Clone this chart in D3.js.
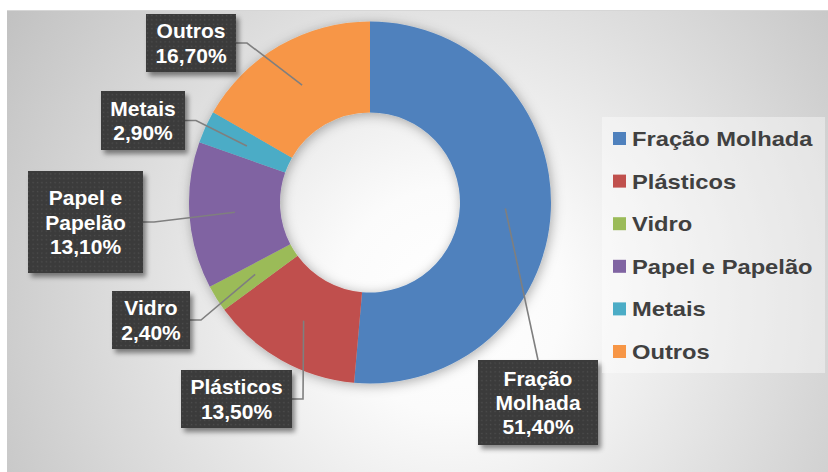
<!DOCTYPE html>
<html>
<head>
<meta charset="utf-8">
<script src="https://cdn.jsdelivr.net/npm/d3@7"></script>
<style>
  body { margin: 0; background: #ffffff; }
  svg { display: block; }
</style>
</head>
<body>
<svg id="chart" width="828" height="472"></svg>
<script>
// Composição dos resíduos (%)
const categories = ["Fração Molhada", "Plásticos", "Vidro", "Papel e Papelão", "Metais", "Outros"];
const shares = [51.4, 13.5, 2.4, 13.1, 2.9, 16.7];
const labelLines = [["Fração", "Molhada"], ["Plásticos"], ["Vidro"], ["Papel e", "Papelão"], ["Metais"], ["Outros"]];
const colors = ["#4f81bd", "#c0504d", "#9bbb59", "#8064a2", "#4bacc6", "#f79646"];

// Data-label callout boxes: centre and size
const calloutBoxes = [
  { cx: 538, cy: 402.5, w: 120, h: 85 },
  { cx: 236.5, cy: 399, w: 111, h: 58 },
  { cx: 151, cy: 320, w: 78, h: 58 },
  { cx: 85.5, cy: 222, w: 115, h: 102 },
  { cx: 143, cy: 120.5, w: 84, h: 59 },
  { cx: 191, cy: 43, w: 90, h: 58 }
];

const W = 828, H = 472;
const plot = { x: 7, y: 10, w: W - 7, h: H - 10 };
const centre = { x: 370, y: 202.5 };
const outerR = 181, innerR = 90;

const fmt = v => d3.format(".2f")(v).replace(".", ",") + "%";

const svg = d3.select("#chart");
const defs = svg.append("defs");

// background gradient
const bg = defs.append("radialGradient")
  .attr("id", "bgGrad")
  .attr("gradientUnits", "userSpaceOnUse")
  .attr("cx", 450).attr("cy", 300).attr("r", 560);
bg.append("stop").attr("offset", 0).attr("stop-color", "#ffffff");
bg.append("stop").attr("offset", 0.2).attr("stop-color", "#fbfbfb");
bg.append("stop").attr("offset", 1).attr("stop-color", "#bdbdbd");

// soft shadow around the ring
const ringShadow = defs.append("filter").attr("id", "ringShadow")
  .attr("x", "-20%").attr("y", "-20%").attr("width", "140%").attr("height", "140%");
ringShadow.append("feDropShadow")
  .attr("dx", 1.5).attr("dy", 2).attr("stdDeviation", 6)
  .attr("flood-color", "#000").attr("flood-opacity", 0.32);

// callout shadow
const boxShadow = defs.append("filter").attr("id", "boxShadow")
  .attr("x", "-20%").attr("y", "-20%").attr("width", "150%").attr("height", "160%");
boxShadow.append("feDropShadow")
  .attr("dx", 3).attr("dy", 4).attr("stdDeviation", 2.5)
  .attr("flood-color", "#000").attr("flood-opacity", 0.45);

// dotted texture of the callout boxes
const dots = defs.append("pattern").attr("id", "dots")
  .attr("patternUnits", "userSpaceOnUse").attr("width", 4.4).attr("height", 4.4);
dots.append("rect").attr("width", 4.4).attr("height", 4.4).attr("fill", "#3a3a3a");
dots.append("rect").attr("x", 1.6).attr("y", 1.6).attr("width", 1.4).attr("height", 1.4).attr("fill", "#4e4e4e");

// chart area
svg.append("rect")
  .attr("x", plot.x).attr("y", plot.y).attr("width", plot.w).attr("height", plot.h)
  .attr("fill", "url(#bgGrad)");
svg.append("line")
  .attr("x1", plot.x).attr("x2", W).attr("y1", plot.y + 0.5).attr("y2", plot.y + 0.5)
  .attr("stroke", "#d6d6d6").attr("stroke-width", 1);

// donut
const pie = d3.pie().sort(null).value(d => d)(shares);
const arc = d3.arc().innerRadius(innerR).outerRadius(outerR);
const anchorArc = d3.arc().innerRadius((innerR + outerR) / 2).outerRadius((innerR + outerR) / 2);

const ring = svg.append("g")
  .attr("transform", `translate(${centre.x},${centre.y})`)
  .attr("filter", "url(#ringShadow)");
ring.selectAll("path").data(pie).join("path")
  .attr("d", arc)
  .attr("fill", (d, i) => colors[i]);

// leader lines
const leaders = svg.append("g")
  .attr("fill", "none").attr("stroke", "#7f7f7f").attr("stroke-width", 1.6);
pie.forEach((d, i) => {
  const [ax0, ay0] = anchorArc.centroid(d);
  const ax = ax0 + centre.x, ay = ay0 + centre.y;
  const b = calloutBoxes[i];
  const x0 = b.cx - b.w / 2, x1 = b.cx + b.w / 2;
  let pts;
  if (ax >= x0 && ax <= x1) {
    const ey = ay < b.cy ? b.cy - b.h / 2 : b.cy + b.h / 2;
    pts = [[b.cx, ey], [ax, ay]];
  } else {
    const dir = ax > x1 ? 1 : -1;
    const ex = dir > 0 ? x1 : x0;
    const stub = Math.min(11, Math.abs(ax - ex));
    pts = [[ex, b.cy], [ex + dir * stub, b.cy], [ax, ay]];
  }
  leaders.append("path").attr("d", d3.line()(pts));
});

// callouts
const callouts = svg.append("g");
pie.forEach((d, i) => {
  const b = calloutBoxes[i];
  const g = callouts.append("g");
  g.append("rect")
    .attr("x", b.cx - b.w / 2).attr("y", b.cy - b.h / 2)
    .attr("width", b.w).attr("height", b.h)
    .attr("fill", "url(#dots)")
    .attr("filter", "url(#boxShadow)");
  const lines = labelLines[i].concat([fmt(shares[i])]);
  const lh = 24.2;
  const top = b.cy - (lines.length - 1) * lh / 2;
  g.selectAll("text").data(lines).join("text")
    .attr("x", b.cx)
    .attr("y", (t, k) => top + k * lh + 7.5)
    .attr("text-anchor", "middle")
    .attr("font-family", "'Liberation Sans', Arial, sans-serif")
    .attr("font-weight", "bold")
    .attr("font-size", 21)
    .attr("fill", "#ffffff")
    .text(t => t);
});

// legend
const legendBox = { x: 602, y: 117, w: 223, h: 256 };
svg.append("rect")
  .attr("x", legendBox.x).attr("y", legendBox.y)
  .attr("width", legendBox.w).attr("height", legendBox.h)
  .attr("fill", "#ffffff").attr("fill-opacity", 0.4);

const legendY = d3.scalePoint().domain(categories).range([138.5, 351.5]);
const legend = svg.append("g");
const item = legend.selectAll("g").data(categories).join("g")
  .attr("transform", d => `translate(613,${legendY(d)})`);
item.append("rect")
  .attr("x", 0).attr("y", -6.5).attr("width", 13).attr("height", 13)
  .attr("fill", (d, i) => colors[i]);
item.append("text")
  .attr("transform", "translate(19,7.5) scale(1.13,1)")
  .attr("font-family", "'Liberation Sans', Arial, sans-serif")
  .attr("font-weight", "bold")
  .attr("font-size", 21)
  .attr("fill", "#404040")
  .text(d => d);
</script>
</body>
</html>
